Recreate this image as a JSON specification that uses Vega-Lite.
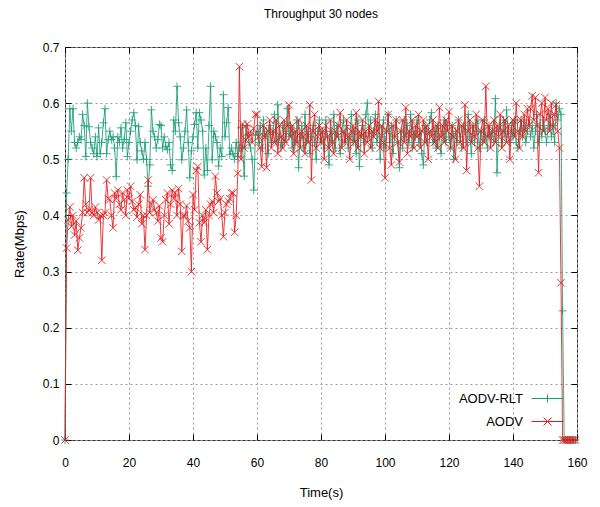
{
"$schema": "https://vega.github.io/schema/vega-lite/v6.json",
"width": 512, "height": 393,
"autosize": "none",
"padding": {"left": 65, "top": 47, "right": 23, "bottom": 67},
"background": "white",
"title": {"text": "Throughput 30 nodes", "fontSize": 12, "fontWeight": "normal", "font": "Liberation Sans", "color": "#000", "offset": 20, "anchor": "middle"},
"data": {"values": [
{"t":0,"AODV-RLT":0,"AODV":0},{"t":0.5,"AODV-RLT":0.44,"AODV":0.342},{"t":1,"AODV-RLT":0.50,"AODV":0.392},{"t":1.5,"AODV-RLT":0.59,"AODV":0.415},{"t":2,"AODV-RLT":0.55,"AODV":0.38},{"t":2.5,"AODV-RLT":0.59,"AODV":0.40},{"t":3,"AODV-RLT":0.53,"AODV":0.365},{"t":3.5,"AODV-RLT":0.52,"AODV":0.39},{"t":4,"AODV-RLT":0.53,"AODV":0.338},{"t":4.5,"AODV-RLT":0.54,"AODV":0.36},
{"t":5,"AODV-RLT":0.535,"AODV":0.378},{"t":5.5,"AODV-RLT":0.58,"AODV":0.405},{"t":6,"AODV-RLT":0.56,"AODV":0.467},{"t":6.5,"AODV-RLT":0.505,"AODV":0.42},{"t":7,"AODV-RLT":0.60,"AODV":0.405},{"t":7.5,"AODV-RLT":0.558,"AODV":0.41},{"t":8,"AODV-RLT":0.53,"AODV":0.467},{"t":8.5,"AODV-RLT":0.52,"AODV":0.405},{"t":9,"AODV-RLT":0.51,"AODV":0.40},{"t":9.5,"AODV-RLT":0.54,"AODV":0.415},
{"t":10,"AODV-RLT":0.505,"AODV":0.405},{"t":10.5,"AODV-RLT":0.556,"AODV":0.392},{"t":11,"AODV-RLT":0.51,"AODV":0.40},{"t":11.5,"AODV-RLT":0.53,"AODV":0.32},{"t":12,"AODV-RLT":0.565,"AODV":0.40},{"t":12.5,"AODV-RLT":0.59,"AODV":0.405},{"t":13,"AODV-RLT":0.51,"AODV":0.463},{"t":13.5,"AODV-RLT":0.535,"AODV":0.43},{"t":14,"AODV-RLT":0.55,"AODV":0.428},{"t":14.5,"AODV-RLT":0.535,"AODV":0.40},
{"t":15,"AODV-RLT":0.54,"AODV":0.378},{"t":15.5,"AODV-RLT":0.52,"AODV":0.44},{"t":16,"AODV-RLT":0.469,"AODV":0.43},{"t":16.5,"AODV-RLT":0.54,"AODV":0.445},{"t":17,"AODV-RLT":0.53,"AODV":0.42},{"t":17.5,"AODV-RLT":0.556,"AODV":0.41},{"t":18,"AODV-RLT":0.52,"AODV":0.44},{"t":18.5,"AODV-RLT":0.535,"AODV":0.428},{"t":19,"AODV-RLT":0.565,"AODV":0.40},{"t":19.5,"AODV-RLT":0.505,"AODV":0.445},
{"t":20,"AODV-RLT":0.53,"AODV":0.43},{"t":20.5,"AODV-RLT":0.55,"AODV":0.452},{"t":21,"AODV-RLT":0.57,"AODV":0.425},{"t":21.5,"AODV-RLT":0.583,"AODV":0.41},{"t":22,"AODV-RLT":0.56,"AODV":0.414},{"t":22.5,"AODV-RLT":0.499,"AODV":0.397},{"t":23,"AODV-RLT":0.558,"AODV":0.42},{"t":23.5,"AODV-RLT":0.53,"AODV":0.437},{"t":24,"AODV-RLT":0.515,"AODV":0.385},{"t":24.5,"AODV-RLT":0.50,"AODV":0.40},
{"t":25,"AODV-RLT":0.53,"AODV":0.339},{"t":25.5,"AODV-RLT":0.50,"AODV":0.40},{"t":26,"AODV-RLT":0.452,"AODV":0.463},{"t":26.5,"AODV-RLT":0.49,"AODV":0.405},{"t":27,"AODV-RLT":0.588,"AODV":0.42},{"t":27.5,"AODV-RLT":0.55,"AODV":0.428},{"t":28,"AODV-RLT":0.54,"AODV":0.41},{"t":28.5,"AODV-RLT":0.52,"AODV":0.405},{"t":29,"AODV-RLT":0.535,"AODV":0.39},{"t":29.5,"AODV-RLT":0.562,"AODV":0.417},
{"t":30,"AODV-RLT":0.56,"AODV":0.36},{"t":30.5,"AODV-RLT":0.52,"AODV":0.353},{"t":31,"AODV-RLT":0.54,"AODV":0.40},{"t":31.5,"AODV-RLT":0.523,"AODV":0.428},{"t":32,"AODV-RLT":0.517,"AODV":0.44},{"t":32.5,"AODV-RLT":0.53,"AODV":0.385},{"t":33,"AODV-RLT":0.49,"AODV":0.42},{"t":33.5,"AODV-RLT":0.48,"AODV":0.445},{"t":34,"AODV-RLT":0.57,"AODV":0.43},{"t":34.5,"AODV-RLT":0.55,"AODV":0.44},
{"t":35,"AODV-RLT":0.63,"AODV":0.40},{"t":35.5,"AODV-RLT":0.565,"AODV":0.448},{"t":36,"AODV-RLT":0.54,"AODV":0.42},{"t":36.5,"AODV-RLT":0.499,"AODV":0.336},{"t":37,"AODV-RLT":0.52,"AODV":0.40},{"t":37.5,"AODV-RLT":0.55,"AODV":0.40},{"t":38,"AODV-RLT":0.588,"AODV":0.417},{"t":38.5,"AODV-RLT":0.53,"AODV":0.39},{"t":39,"AODV-RLT":0.467,"AODV":0.378},{"t":39.5,"AODV-RLT":0.515,"AODV":0.30},
{"t":40,"AODV-RLT":0.54,"AODV":0.437},{"t":40.5,"AODV-RLT":0.562,"AODV":0.41},{"t":41,"AODV-RLT":0.583,"AODV":0.48},{"t":41.5,"AODV-RLT":0.52,"AODV":0.487},{"t":42,"AODV-RLT":0.583,"AODV":0.387},{"t":42.5,"AODV-RLT":0.57,"AODV":0.353},{"t":43,"AODV-RLT":0.55,"AODV":0.40},{"t":43.5,"AODV-RLT":0.472,"AODV":0.387},{"t":44,"AODV-RLT":0.52,"AODV":0.41},{"t":44.5,"AODV-RLT":0.48,"AODV":0.339},
{"t":45,"AODV-RLT":0.56,"AODV":0.40},{"t":45.5,"AODV-RLT":0.63,"AODV":0.42},{"t":46,"AODV-RLT":0.499,"AODV":0.425},{"t":46.5,"AODV-RLT":0.55,"AODV":0.405},{"t":47,"AODV-RLT":0.54,"AODV":0.47},{"t":47.5,"AODV-RLT":0.53,"AODV":0.44},{"t":48,"AODV-RLT":0.488,"AODV":0.425},{"t":48.5,"AODV-RLT":0.52,"AODV":0.43},{"t":49,"AODV-RLT":0.505,"AODV":0.40},{"t":49.5,"AODV-RLT":0.615,"AODV":0.362},
{"t":50,"AODV-RLT":0.54,"AODV":0.405},{"t":50.5,"AODV-RLT":0.565,"AODV":0.42},{"t":51,"AODV-RLT":0.592,"AODV":0.425},{"t":51.5,"AODV-RLT":0.508,"AODV":0.43},{"t":52,"AODV-RLT":0.52,"AODV":0.44},{"t":52.5,"AODV-RLT":0.51,"AODV":0.44},{"t":53,"AODV-RLT":0.50,"AODV":0.37},{"t":53.5,"AODV-RLT":0.53,"AODV":0.40},{"t":54,"AODV-RLT":0.505,"AODV":0.475},{"t":54.5,"AODV-RLT":0.52,"AODV":0.665},
{"t":55,"AODV-RLT":0.556,"AODV":0.50},{"t":55.5,"AODV-RLT":0.52,"AODV":0.563},{"t":56,"AODV-RLT":0.47,"AODV":0.52},{"t":56.5,"AODV-RLT":0.56,"AODV":0.535},{"t":57,"AODV-RLT":0.543,"AODV":0.563},{"t":57.5,"AODV-RLT":0.53,"AODV":0.54},{"t":58,"AODV-RLT":0.52,"AODV":0.55},{"t":58.5,"AODV-RLT":0.50,"AODV":0.53},{"t":59,"AODV-RLT":0.445,"AODV":0.555},{"t":59.5,"AODV-RLT":0.543,"AODV":0.58},
{"t":60,"AODV-RLT":0.55,"AODV":0.58},{"t":60.5,"AODV-RLT":0.53,"AODV":0.54},{"t":61,"AODV-RLT":0.56,"AODV":0.52},{"t":61.5,"AODV-RLT":0.52,"AODV":0.487},{"t":62,"AODV-RLT":0.57,"AODV":0.56},{"t":62.5,"AODV-RLT":0.54,"AODV":0.54},{"t":63,"AODV-RLT":0.55,"AODV":0.485},{"t":63.5,"AODV-RLT":0.51,"AODV":0.55},{"t":64,"AODV-RLT":0.56,"AODV":0.57},{"t":64.5,"AODV-RLT":0.53,"AODV":0.52},
{"t":65,"AODV-RLT":0.55,"AODV":0.55},{"t":65.5,"AODV-RLT":0.58,"AODV":0.53},{"t":66,"AODV-RLT":0.53,"AODV":0.57},{"t":66.5,"AODV-RLT":0.597,"AODV":0.51},{"t":67,"AODV-RLT":0.54,"AODV":0.56},{"t":67.5,"AODV-RLT":0.52,"AODV":0.54},{"t":68,"AODV-RLT":0.56,"AODV":0.52},{"t":68.5,"AODV-RLT":0.53,"AODV":0.57},{"t":69,"AODV-RLT":0.55,"AODV":0.53},{"t":69.5,"AODV-RLT":0.59,"AODV":0.56},
{"t":70,"AODV-RLT":0.54,"AODV":0.597},{"t":70.5,"AODV-RLT":0.56,"AODV":0.54},{"t":71,"AODV-RLT":0.52,"AODV":0.56},{"t":71.5,"AODV-RLT":0.55,"AODV":0.51},{"t":72,"AODV-RLT":0.53,"AODV":0.55},{"t":72.5,"AODV-RLT":0.57,"AODV":0.53},{"t":73,"AODV-RLT":0.485,"AODV":0.57},{"t":73.5,"AODV-RLT":0.54,"AODV":0.52},{"t":74,"AODV-RLT":0.56,"AODV":0.55},{"t":74.5,"AODV-RLT":0.52,"AODV":0.54},
{"t":75,"AODV-RLT":0.58,"AODV":0.51},{"t":75.5,"AODV-RLT":0.53,"AODV":0.56},{"t":76,"AODV-RLT":0.55,"AODV":0.53},{"t":76.5,"AODV-RLT":0.51,"AODV":0.597},{"t":77,"AODV-RLT":0.54,"AODV":0.463},{"t":77.5,"AODV-RLT":0.56,"AODV":0.55},{"t":78,"AODV-RLT":0.53,"AODV":0.58},{"t":78.5,"AODV-RLT":0.50,"AODV":0.52},{"t":79,"AODV-RLT":0.55,"AODV":0.54},{"t":79.5,"AODV-RLT":0.57,"AODV":0.56},
{"t":80,"AODV-RLT":0.53,"AODV":0.53},{"t":80.5,"AODV-RLT":0.55,"AODV":0.55},{"t":81,"AODV-RLT":0.52,"AODV":0.50},{"t":81.5,"AODV-RLT":0.57,"AODV":0.56},{"t":82,"AODV-RLT":0.54,"AODV":0.54},{"t":82.5,"AODV-RLT":0.49,"AODV":0.52},{"t":83,"AODV-RLT":0.55,"AODV":0.57},{"t":83.5,"AODV-RLT":0.53,"AODV":0.53},{"t":84,"AODV-RLT":0.58,"AODV":0.51},{"t":84.5,"AODV-RLT":0.52,"AODV":0.55},
{"t":85,"AODV-RLT":0.56,"AODV":0.54},{"t":85.5,"AODV-RLT":0.54,"AODV":0.56},{"t":86,"AODV-RLT":0.51,"AODV":0.583},{"t":86.5,"AODV-RLT":0.55,"AODV":0.52},{"t":87,"AODV-RLT":0.57,"AODV":0.55},{"t":87.5,"AODV-RLT":0.53,"AODV":0.53},{"t":88,"AODV-RLT":0.56,"AODV":0.57},{"t":88.5,"AODV-RLT":0.52,"AODV":0.54},{"t":89,"AODV-RLT":0.54,"AODV":0.50},{"t":89.5,"AODV-RLT":0.58,"AODV":0.55},
{"t":90,"AODV-RLT":0.53,"AODV":0.56},{"t":90.5,"AODV-RLT":0.55,"AODV":0.53},{"t":91,"AODV-RLT":0.51,"AODV":0.583},{"t":91.5,"AODV-RLT":0.57,"AODV":0.52},{"t":92,"AODV-RLT":0.487,"AODV":0.55},{"t":92.5,"AODV-RLT":0.54,"AODV":0.54},{"t":93,"AODV-RLT":0.56,"AODV":0.57},{"t":93.5,"AODV-RLT":0.53,"AODV":0.51},{"t":94,"AODV-RLT":0.58,"AODV":0.55},{"t":94.5,"AODV-RLT":0.60,"AODV":0.53},
{"t":95,"AODV-RLT":0.54,"AODV":0.56},{"t":95.5,"AODV-RLT":0.57,"AODV":0.52},{"t":96,"AODV-RLT":0.52,"AODV":0.55},{"t":96.5,"AODV-RLT":0.55,"AODV":0.54},{"t":97,"AODV-RLT":0.58,"AODV":0.57},{"t":97.5,"AODV-RLT":0.53,"AODV":0.55},{"t":98,"AODV-RLT":0.56,"AODV":0.603},{"t":98.5,"AODV-RLT":0.50,"AODV":0.52},{"t":99,"AODV-RLT":0.54,"AODV":0.56},{"t":99.5,"AODV-RLT":0.57,"AODV":0.53},
{"t":100,"AODV-RLT":0.52,"AODV":0.467},{"t":100.5,"AODV-RLT":0.55,"AODV":0.55},{"t":101,"AODV-RLT":0.58,"AODV":0.58},{"t":101.5,"AODV-RLT":0.53,"AODV":0.52},{"t":102,"AODV-RLT":0.56,"AODV":0.49},{"t":102.5,"AODV-RLT":0.51,"AODV":0.56},{"t":103,"AODV-RLT":0.54,"AODV":0.54},{"t":103.5,"AODV-RLT":0.57,"AODV":0.57},{"t":104,"AODV-RLT":0.53,"AODV":0.53},{"t":104.5,"AODV-RLT":0.485,"AODV":0.495},
{"t":105,"AODV-RLT":0.55,"AODV":0.55},{"t":105.5,"AODV-RLT":0.52,"AODV":0.57},{"t":106,"AODV-RLT":0.57,"AODV":0.53},{"t":106.5,"AODV-RLT":0.54,"AODV":0.592},{"t":107,"AODV-RLT":0.56,"AODV":0.51},{"t":107.5,"AODV-RLT":0.53,"AODV":0.55},{"t":108,"AODV-RLT":0.58,"AODV":0.54},{"t":108.5,"AODV-RLT":0.52,"AODV":0.57},{"t":109,"AODV-RLT":0.55,"AODV":0.52},{"t":109.5,"AODV-RLT":0.54,"AODV":0.56},
{"t":110,"AODV-RLT":0.57,"AODV":0.54},{"t":110.5,"AODV-RLT":0.53,"AODV":0.58},{"t":111,"AODV-RLT":0.55,"AODV":0.52},{"t":111.5,"AODV-RLT":0.51,"AODV":0.55},{"t":112,"AODV-RLT":0.49,"AODV":0.57},{"t":112.5,"AODV-RLT":0.56,"AODV":0.53},{"t":113,"AODV-RLT":0.53,"AODV":0.56},{"t":113.5,"AODV-RLT":0.55,"AODV":0.50},{"t":114,"AODV-RLT":0.57,"AODV":0.55},{"t":114.5,"AODV-RLT":0.583,"AODV":0.54},
{"t":115,"AODV-RLT":0.53,"AODV":0.57},{"t":115.5,"AODV-RLT":0.55,"AODV":0.53},{"t":116,"AODV-RLT":0.52,"AODV":0.56},{"t":116.5,"AODV-RLT":0.56,"AODV":0.52},{"t":117,"AODV-RLT":0.54,"AODV":0.592},{"t":117.5,"AODV-RLT":0.51,"AODV":0.54},{"t":118,"AODV-RLT":0.55,"AODV":0.56},{"t":118.5,"AODV-RLT":0.57,"AODV":0.53},{"t":119,"AODV-RLT":0.53,"AODV":0.57},{"t":119.5,"AODV-RLT":0.56,"AODV":0.55},
{"t":120,"AODV-RLT":0.54,"AODV":0.585},{"t":120.5,"AODV-RLT":0.52,"AODV":0.52},{"t":121,"AODV-RLT":0.56,"AODV":0.56},{"t":121.5,"AODV-RLT":0.50,"AODV":0.54},{"t":122,"AODV-RLT":0.55,"AODV":0.50},{"t":122.5,"AODV-RLT":0.53,"AODV":0.55},{"t":123,"AODV-RLT":0.57,"AODV":0.57},{"t":123.5,"AODV-RLT":0.54,"AODV":0.53},{"t":124,"AODV-RLT":0.52,"AODV":0.56},{"t":124.5,"AODV-RLT":0.56,"AODV":0.52},
{"t":125,"AODV-RLT":0.55,"AODV":0.597},{"t":125.5,"AODV-RLT":0.53,"AODV":0.48},{"t":126,"AODV-RLT":0.58,"AODV":0.55},{"t":126.5,"AODV-RLT":0.54,"AODV":0.57},{"t":127,"AODV-RLT":0.51,"AODV":0.53},{"t":127.5,"AODV-RLT":0.56,"AODV":0.56},{"t":128,"AODV-RLT":0.53,"AODV":0.54},{"t":128.5,"AODV-RLT":0.55,"AODV":0.58},{"t":129,"AODV-RLT":0.57,"AODV":0.52},{"t":129.5,"AODV-RLT":0.52,"AODV":0.452},
{"t":130,"AODV-RLT":0.55,"AODV":0.55},{"t":130.5,"AODV-RLT":0.53,"AODV":0.57},{"t":131,"AODV-RLT":0.57,"AODV":0.53},{"t":131.5,"AODV-RLT":0.54,"AODV":0.63},{"t":132,"AODV-RLT":0.52,"AODV":0.54},{"t":132.5,"AODV-RLT":0.56,"AODV":0.56},{"t":133,"AODV-RLT":0.54,"AODV":0.52},{"t":133.5,"AODV-RLT":0.55,"AODV":0.55},{"t":134,"AODV-RLT":0.53,"AODV":0.57},{"t":134.5,"AODV-RLT":0.608,"AODV":0.53},
{"t":135,"AODV-RLT":0.476,"AODV":0.56},{"t":135.5,"AODV-RLT":0.55,"AODV":0.54},{"t":136,"AODV-RLT":0.56,"AODV":0.58},{"t":136.5,"AODV-RLT":0.53,"AODV":0.52},{"t":137,"AODV-RLT":0.57,"AODV":0.55},{"t":137.5,"AODV-RLT":0.54,"AODV":0.57},{"t":138,"AODV-RLT":0.588,"AODV":0.53},{"t":138.5,"AODV-RLT":0.55,"AODV":0.56},{"t":139,"AODV-RLT":0.53,"AODV":0.50},{"t":139.5,"AODV-RLT":0.56,"AODV":0.55},
{"t":140,"AODV-RLT":0.54,"AODV":0.57},{"t":140.5,"AODV-RLT":0.57,"AODV":0.54},{"t":141,"AODV-RLT":0.53,"AODV":0.60},{"t":141.5,"AODV-RLT":0.52,"AODV":0.55},{"t":142,"AODV-RLT":0.55,"AODV":0.52},{"t":142.5,"AODV-RLT":0.57,"AODV":0.57},{"t":143,"AODV-RLT":0.54,"AODV":0.54},{"t":143.5,"AODV-RLT":0.56,"AODV":0.58},{"t":144,"AODV-RLT":0.53,"AODV":0.55},{"t":144.5,"AODV-RLT":0.55,"AODV":0.59},
{"t":145,"AODV-RLT":0.57,"AODV":0.56},{"t":145.5,"AODV-RLT":0.54,"AODV":0.59},{"t":146,"AODV-RLT":0.56,"AODV":0.613},{"t":146.5,"AODV-RLT":0.52,"AODV":0.57},{"t":147,"AODV-RLT":0.55,"AODV":0.61},{"t":147.5,"AODV-RLT":0.58,"AODV":0.56},{"t":148,"AODV-RLT":0.53,"AODV":0.476},{"t":148.5,"AODV-RLT":0.56,"AODV":0.58},{"t":149,"AODV-RLT":0.54,"AODV":0.60},{"t":149.5,"AODV-RLT":0.57,"AODV":0.55},
{"t":150,"AODV-RLT":0.55,"AODV":0.61},{"t":150.5,"AODV-RLT":0.53,"AODV":0.57},{"t":151,"AODV-RLT":0.56,"AODV":0.59},{"t":151.5,"AODV-RLT":0.58,"AODV":0.55},{"t":152,"AODV-RLT":0.54,"AODV":0.60},{"t":152.5,"AODV-RLT":0.56,"AODV":0.56},{"t":153,"AODV-RLT":0.53,"AODV":0.58},{"t":153.5,"AODV-RLT":0.60,"AODV":0.597},{"t":154,"AODV-RLT":0.57,"AODV":0.55},{"t":154.5,"AODV-RLT":0.59,"AODV":0.52},
{"t":155,"AODV-RLT":0.58,"AODV":0.28},{"t":155.5,"AODV-RLT":0.23,"AODV":0},{"t":156,"AODV-RLT":0,"AODV":0},{"t":156.5,"AODV-RLT":0,"AODV":0},{"t":157,"AODV-RLT":0,"AODV":0},{"t":157.5,"AODV-RLT":0,"AODV":0},{"t":158,"AODV-RLT":0,"AODV":0},{"t":158.5,"AODV-RLT":0,"AODV":0},{"t":159,"AODV-RLT":0,"AODV":0},{"t":159.5,"AODV-RLT":0,"AODV":0}
]},
"transform": [{"fold": ["AODV-RLT", "AODV"], "as": ["series", "v"]}],
"config": {
  "view": {"stroke": "#333", "strokeWidth": 1},
  "axis": {"labelFont": "Liberation Sans", "titleFont": "Liberation Sans", "labelFontSize": 12, "titleFontSize": 13, "titleFontWeight": "normal", "labelColor": "#000", "titleColor": "#000", "tickColor": "#000", "domain": false, "gridColor": "#9a9a9a", "gridDash": [2, 3], "gridOpacity": 1, "labelFlush": false, "labelOverlap": false}
},
"layer": [
  {
    "transform": [{"filter": "datum.series === 'AODV-RLT'"}],
    "mark": {"type": "line", "strokeWidth": 1, "opacity": 0.85, "color": "#1b9e77"},
    "encoding": {
      "x": {"field": "t", "type": "quantitative", "scale": {"domain": [0, 160], "nice": false},
            "axis": {"orient": "bottom", "values": [0,20,40,60,80,100,120,140,160], "grid": true, "tickSize": -6, "labelPadding": 23, "title": "Time(s)", "titlePadding": 18}},
      "y": {"field": "v", "type": "quantitative", "scale": {"domain": [0, 0.7], "nice": false},
            "axis": {"orient": "left", "values": [0,0.1,0.2,0.3,0.4,0.5,0.6,0.7], "format": "~g", "grid": true, "tickSize": -6, "labelPadding": 12, "title": "Rate(Mbps)", "titlePadding": 16}}
    }
  },
  {
    "transform": [{"filter": "datum.series === 'AODV-RLT'"}],
    "mark": {"type": "point", "filled": false, "size": 64, "strokeWidth": 1, "opacity": 0.85, "color": "#1b9e77", "shape": "M-1,0H1M0,-1V1"},
    "encoding": {
      "x": {"field": "t", "type": "quantitative", "axis": {"orient": "top", "values": [0,20,40,60,80,100,120,140,160], "grid": false, "labels": false, "tickSize": -6, "title": null}},
      "y": {"field": "v", "type": "quantitative", "axis": {"orient": "right", "values": [0,0.1,0.2,0.3,0.4,0.5,0.6,0.7], "grid": false, "labels": false, "tickSize": -6, "title": null}}
    }
  },
  {
    "transform": [{"filter": "datum.series === 'AODV'"}],
    "mark": {"type": "line", "strokeWidth": 1, "opacity": 0.85, "color": "#e41a1c"},
    "encoding": {
      "x": {"field": "t", "type": "quantitative", "axis": null},
      "y": {"field": "v", "type": "quantitative", "axis": null}
    }
  },
  {
    "transform": [{"filter": "datum.series === 'AODV'"}],
    "mark": {"type": "point", "filled": false, "size": 56, "strokeWidth": 1, "opacity": 0.85, "color": "#e41a1c", "shape": "M-1,-1L1,1M-1,1L1,-1"},
    "encoding": {
      "x": {"field": "t", "type": "quantitative", "axis": null},
      "y": {"field": "v", "type": "quantitative", "axis": null}
    }
  },
  {
    "mark": {"type": "point", "filled": false, "size": 64, "strokeWidth": 1, "opacity": 0},
    "encoding": {
      "x": {"field": "t", "type": "quantitative", "axis": null},
      "y": {"field": "v", "type": "quantitative", "axis": null},
      "color": {"field": "series", "type": "nominal", "scale": {"domain": ["AODV-RLT", "AODV"], "range": ["#1b9e77", "#e41a1c"]},
        "legend": {"title": null, "orient": "bottom-right", "offset": 11, "labelAlign": "right", "labelOffset": -31, "symbolSize": 64, "symbolStrokeWidth": 1, "symbolOpacity": 1, "labelFont": "Liberation Sans", "labelFontSize": 13, "labelColor": "#000", "rowPadding": 9}},
      "shape": {"field": "series", "type": "nominal", "scale": {"domain": ["AODV-RLT", "AODV"], "range": ["M-4,0H4M0,-1V1", "M-4,0H4M-1,-1L1,1M-1,1L1,-1"]},
        "legend": {"title": null, "orient": "bottom-right", "offset": 11, "labelAlign": "right", "labelOffset": -31, "symbolSize": 64, "symbolStrokeWidth": 1, "symbolOpacity": 1, "labelFont": "Liberation Sans", "labelFontSize": 13, "labelColor": "#000", "rowPadding": 9}}
    }
  }
]
}
